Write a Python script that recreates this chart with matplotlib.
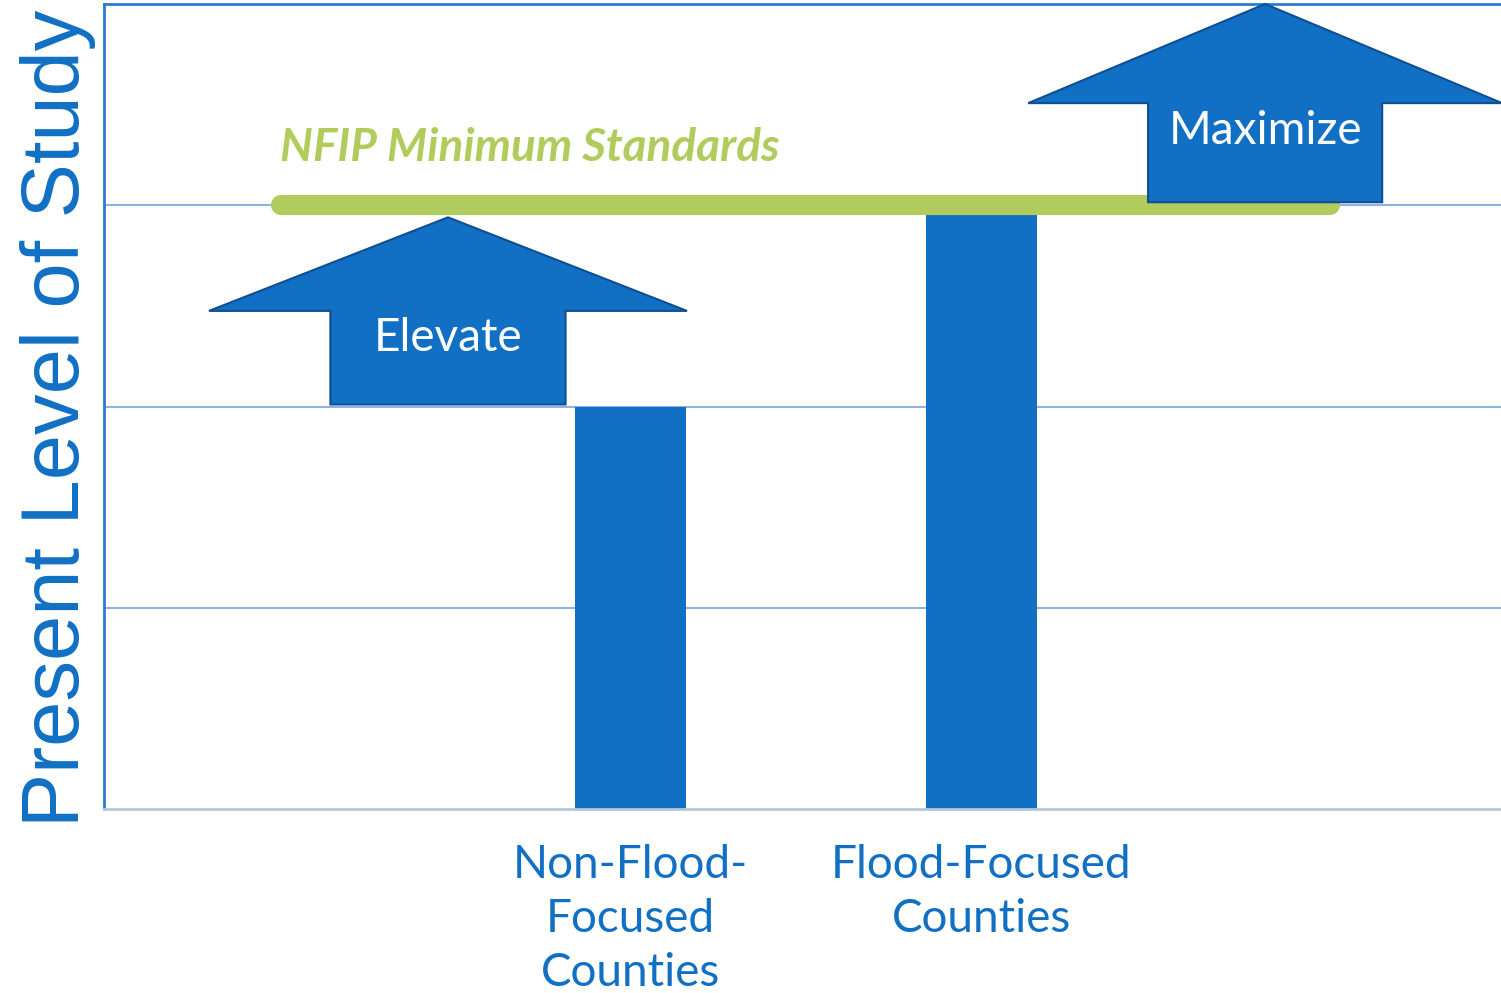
import matplotlib
matplotlib.use("Agg")
import matplotlib.pyplot as plt
from matplotlib.patches import Polygon

# ---- data ----
positions = [0, 1, 2, 3]
categories = ["", "Non-Flood-\nFocused\nCounties", "Flood-Focused\nCounties", ""]
levels = [0, 2, 3, 0]
standard_level = 3
top_level = 4

BLUE = "#1170C4"
EDGE = "#0E4F94"
GREEN = "#B1CC5C"
GRID = "#8DB4E2"

fig = plt.figure(figsize=(15.01, 9.93), dpi=100)
ax = fig.add_axes([104 / 1501, 1 - 809 / 993, 1 - 104 / 1501, (809 - 4) / 993])

ax.set_xlim(-0.5, 3.48)
ax.set_ylim(0, top_level)
ax.bar(positions, levels, width=0.316, color=BLUE, zorder=2)

ax.set_yticks([1, 2, 3, 4])
ax.yaxis.grid(True, color=GRID, lw=1.5, zorder=0)
ax.set_axisbelow(True)
ax.tick_params(left=False, bottom=False, labelleft=False)
ax.set_xticks(positions[1:3])
ax.set_xticklabels(categories[1:3], fontsize=33, color=BLUE, family="Lato",
                   linespacing=1.35, va="top")
ax.tick_params(axis="x", pad=22)

for side in ["left", "top"]:
    ax.spines[side].set_color("#2E7AD2")
    ax.spines[side].set_linewidth(2)
ax.spines["right"].set_visible(False)
ax.spines["bottom"].set_color("#B4C7DC")
ax.spines["bottom"].set_linewidth(2)

# NFIP minimum standard line
ax.plot([0.003, 2.993], [standard_level, standard_level], color=GREEN, lw=14.5,
        solid_capstyle="round", zorder=3)
ax.text(0.0, standard_level + 0.22, "NFIP Minimum Standards", color=GREEN,
        fontsize=33, style="italic", weight="bold", family="Lato", ha="left",
        va="baseline", zorder=4)


def up_arrow(xc, y0, y1, shaft_w, head_w, head_frac, label, label_y):
    yb = y1 - (y1 - y0) * head_frac
    pts = [(xc - shaft_w / 2, y0), (xc + shaft_w / 2, y0), (xc + shaft_w / 2, yb),
           (xc + head_w / 2, yb), (xc, y1), (xc - head_w / 2, yb),
           (xc - shaft_w / 2, yb)]
    ax.add_patch(Polygon(pts, closed=True, facecolor=BLUE, edgecolor=EDGE,
                         lw=1.5, zorder=5, clip_on=False))
    ax.text(xc, label_y, label, color="white", fontsize=33, family="Lato",
            ha="center", va="center", zorder=6)


up_arrow(0.480, levels[1] + 0.01, standard_level - 0.06, 0.670, 1.362, 0.50,
         "Elevate", 2.34)
up_arrow(2.808, standard_level + 0.015, top_level, 0.667, 1.350, 0.50,
         "Maximize", 3.37)

fig.text(58 / 1501, 1 - 418 / 993, "Present Level of Study", rotation=90,
         fontsize=58.5, color=BLUE, family="Liberation Sans", ha="center",
         va="center")

fig.savefig("out.png", dpi=100)
